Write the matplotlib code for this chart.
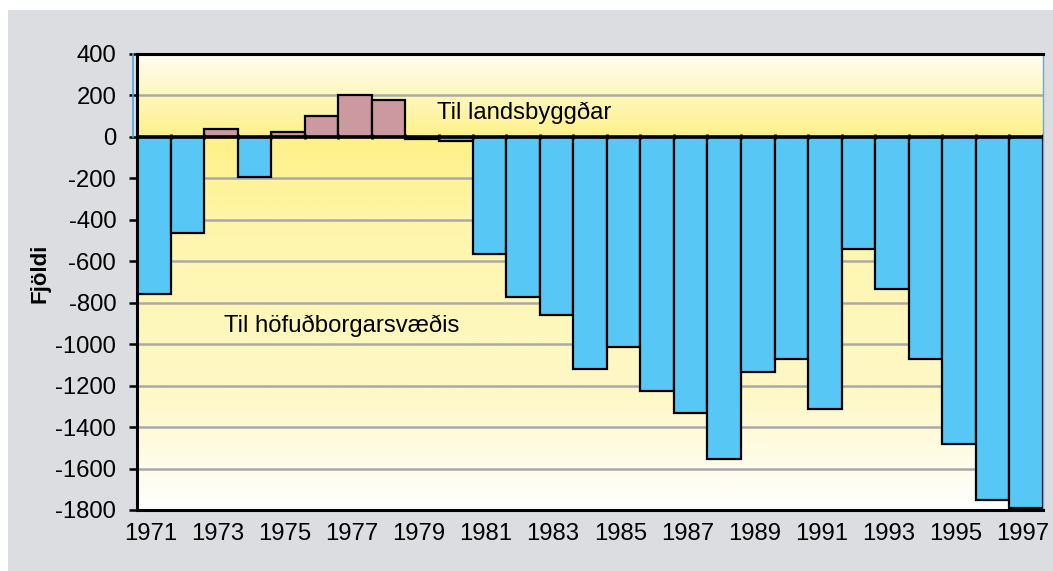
import numpy as np
import matplotlib.pyplot as plt
from matplotlib.colors import LinearSegmentedColormap
from matplotlib.patches import Rectangle

plt.rcParams['font.family'] = ['Liberation Sans', 'DejaVu Sans']

years = list(range(1971, 1998))
values = [-760, -465, 40, -193, 25, 100, 203, 180, -8, -20,
          -565, -770, -860, -1120, -1015, -1225, -1330, -1555, -1135, -1070,
          -1315, -540, -735, -1070, -1480, -1750, -1790]
yticks = list(range(-1800, 401, 200))
label_top = "Til landsbyggðar"
label_bottom = "Til höfuðborgarsvæðis"

fs = 17.2

fig = plt.figure(figsize=(10.53, 5.71), dpi=100)
fig.patch.set_facecolor('white')
# grey panel behind the chart
fig.patches.append(Rectangle((8 / 1053, 0), 1, (571 - 10) / 571, transform=fig.transFigure,
                             facecolor='#dcdde0', edgecolor='none', zorder=-10))

ax = fig.add_axes([137 / 1053, 1 - 510 / 571, (1043 - 137) / 1053, (510 - 54) / 571])

x = np.arange(len(years))
ax.set_xlim(-0.5, len(years) - 0.5)
ax.set_ylim(-1800, 400)

# background gradient: white at top, yellow around zero, fading to white at bottom
cmap = LinearSegmentedColormap.from_list('bg', [
    (0.0, '#ffffff'), (0.25, '#fef8c8'), (0.60, '#fef6ad'), (0.82, '#fef188'),
    (1.0, '#fffdf2')])
grad = np.linspace(0, 1, 256).reshape(-1, 1)
ax.imshow(grad, cmap=cmap, aspect='auto', extent=(-0.5, len(years) - 0.5, -1800, 400),
          origin='lower', zorder=0)

for t in yticks:
    if t not in (0, 400, -1800):
        ax.axhline(t, color='#a9a9a9', lw=1.8, zorder=1)

colors = ['#cc99a0' if v > 0 else '#57c8f5' for v in values]
ax.bar(x, values, width=1.0, color=colors, edgecolor='black', linewidth=1.6, zorder=2)

ax.axhline(0, color='black', lw=2.6, zorder=3)
# category tick marks on the zero line
ax.vlines(np.arange(len(years) + 1) - 0.5, -12, 12, color='black', lw=2, zorder=3)

ax.set_yticks(yticks)
ax.set_yticklabels([str(t) for t in yticks], fontsize=fs)
ax.tick_params(axis='y', length=6, width=1.8, direction='out', pad=9)
ax.set_xticks(x[::2] - 0.1)
ax.set_xticklabels([str(y) for y in years[::2]], fontsize=fs)
ax.tick_params(axis='x', length=0, pad=9)

for s in ['left', 'bottom', 'top']:
    ax.spines[s].set_linewidth(2.2)
    ax.spines[s].set_color('black')
ax.spines['right'].set_color('#6aa8d8')
ax.spines['right'].set_linewidth(1)

ax.set_ylabel('Fjöldi', fontsize=16, fontweight='bold', va='center')
ax.yaxis.set_label_coords(-0.107, 0.52)

ax.text(8.45, 116, label_top, fontsize=fs, va='center', ha='left', zorder=4)
ax.text(2.1, -912, label_bottom, fontsize=fs, va='center', ha='left', zorder=4)

# thin blue mark left of the axis above zero
ax.plot([-0.62, -0.62], [0, 400], color='#4fa8e0', lw=1.2, clip_on=False, zorder=4)

fig.savefig('out.png', dpi=100, facecolor=fig.get_facecolor())
